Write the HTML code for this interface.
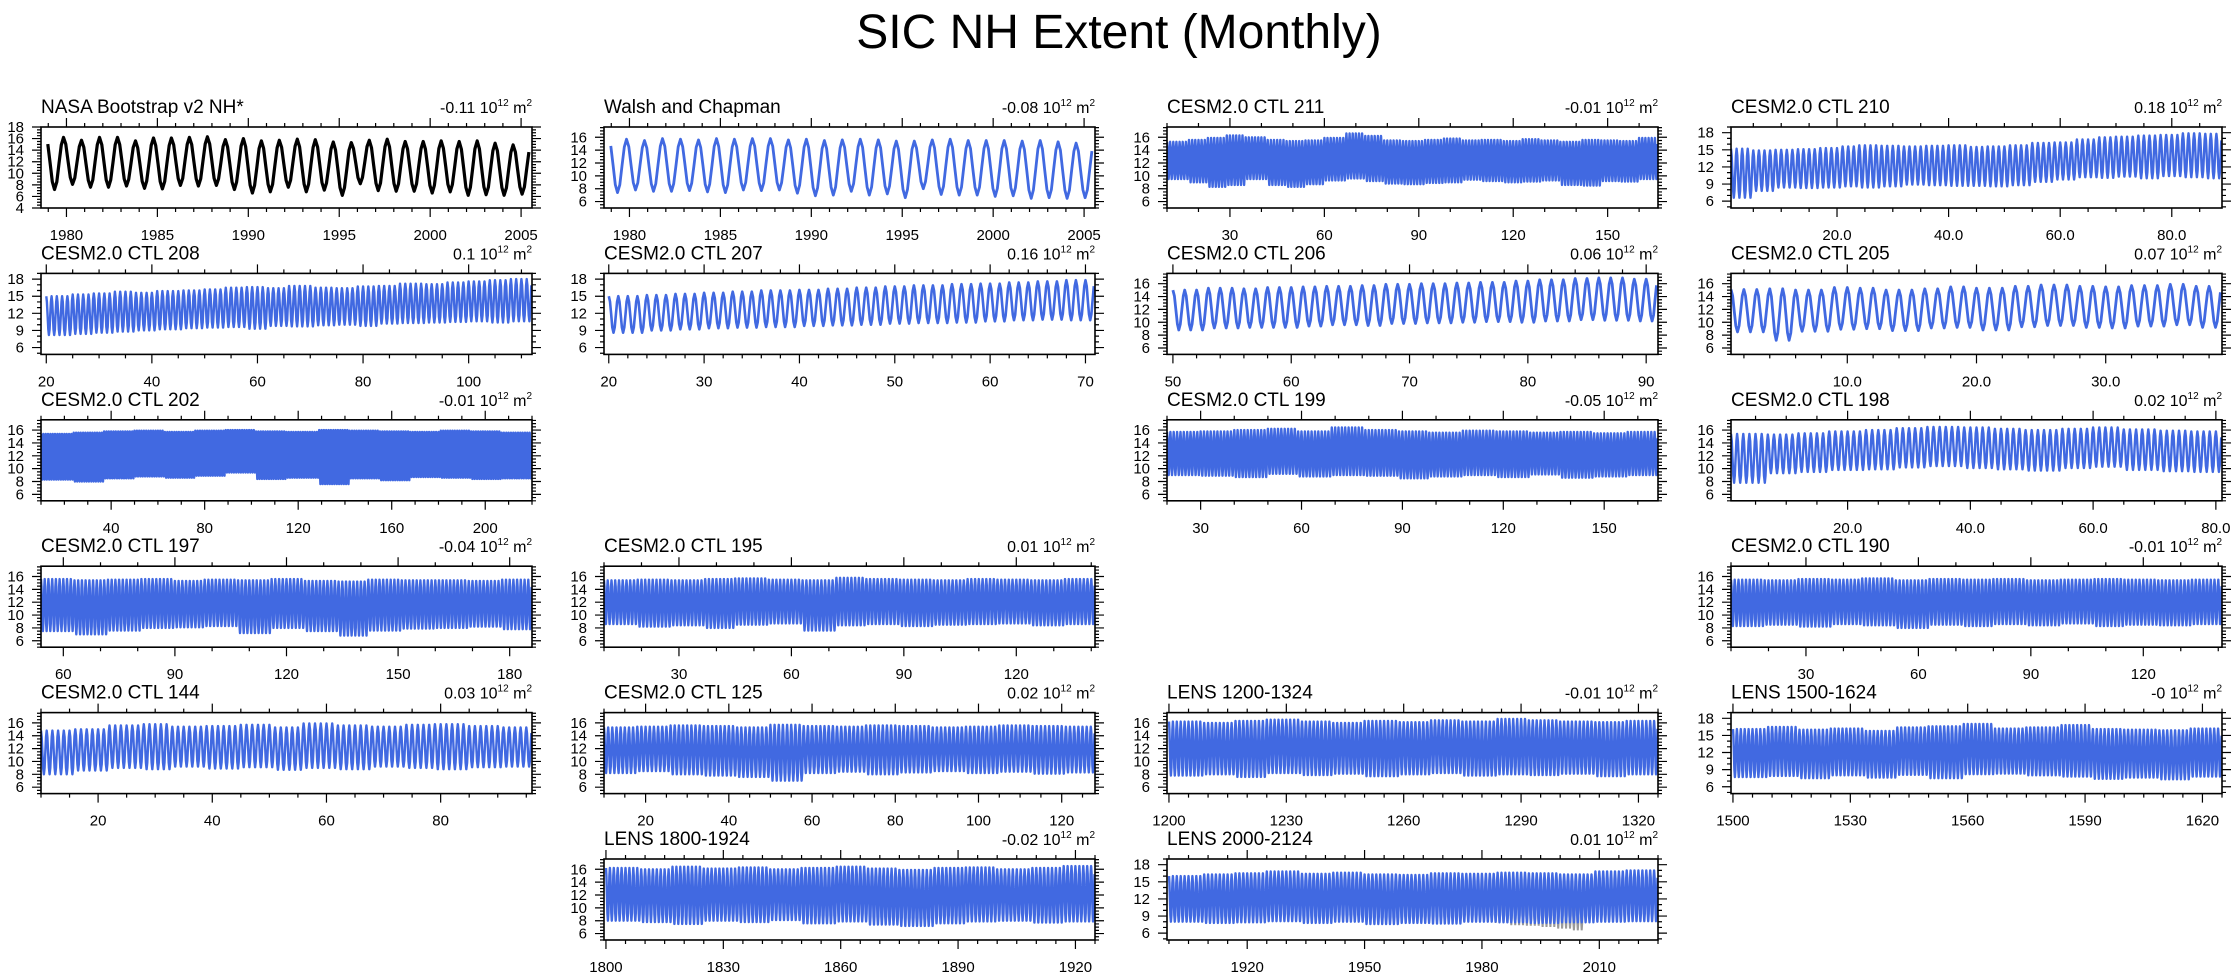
<!DOCTYPE html>
<html><head><meta charset="utf-8"><style>
html,body{margin:0;padding:0;background:#fff;}
svg{display:block;font-family:"Liberation Sans",sans-serif;}
</style></head><body>
<svg id="chart" width="2238" height="978" viewBox="0 0 2238 978">
<text x="1119" y="48" font-size="48" text-anchor="middle">SIC NH Extent (Monthly)</text>
</svg>
<script>
// ---- data (annual max / min of monthly extent, 10^12 m^2) ----
const nasaMax=[16.4,16.2,15.7,16.2,16.2,15.6,16.1,16.1,16.2,16.3,15.8,16.0,15.6,15.7,15.9,15.8,15.4,15.3,15.7,15.9,15.5,15.5,15.6,15.5,15.6,15.2,14.9];
const nasaMin=[7.2,8.1,7.6,7.6,7.8,7.4,7.3,7.9,7.8,7.9,7.2,6.6,6.8,7.6,6.8,7.1,6.2,8.2,7.0,6.9,6.9,6.6,6.8,6.2,6.3,6.2,6.4];
const walshMax=[15.9,15.7,15.5,15.8,15.7,15.6,15.8,15.7,15.8,15.8,15.6,15.7,15.5,15.6,15.7,15.6,15.4,15.4,15.6,15.7,15.5,15.5,15.5,15.4,15.5,15.3,15.1];
const walshMin=[7.4,7.8,7.6,7.6,7.7,7.5,7.4,7.8,7.7,7.8,7.3,6.9,7.0,7.6,7.0,7.2,6.6,8.0,7.1,7.0,7.0,6.8,6.9,6.5,6.6,6.5,6.6];
const c211Max=[15.3,15.6,15.9,16.3,16.0,15.6,15.4,15.5,15.9,16.6,16.2,15.5,15.4,15.6,15.8,15.5,15.6,15.4,15.7,15.5,15.3,15.6,15.5,15.4,15.9];
const c211Min=[9.5,9.0,8.3,8.6,9.5,8.6,8.3,8.7,9.3,9.6,9.2,8.8,8.7,8.9,9.0,9.4,9.2,9.0,9.1,9.3,8.6,8.5,9.2,9.1,9.5];
const c210Max=[15.2,14.9,15.0,15.1,15.3,15.6,15.8,15.7,15.6,15.7,15.8,15.5,15.6,15.8,16.2,16.3,16.8,17.2,17.3,17.5,17.6,17.9,17.8];
const c210Min=[6.6,7.8,8.4,8.3,8.4,8.6,8.4,8.6,8.9,8.8,8.7,8.7,8.6,8.8,9.4,9.8,10.2,10.1,10.3,10.0,10.4,10.2,10.0];
const c208Max=[15.0,15.3,15.5,15.8,15.6,15.9,16.0,16.2,16.5,16.6,16.4,16.8,16.5,16.4,16.7,16.8,17.2,17.1,17.4,17.6,17.8,18.0];
const c208Min=[8.2,8.4,8.6,8.8,9.0,9.2,9.4,9.5,9.6,9.3,9.8,9.7,9.9,10.0,9.8,10.2,10.3,10.4,10.5,10.6,10.4,10.6];
const c207Max=[15.0,15.2,15.4,15.6,15.8,16.0,16.1,16.3,16.5,16.7,16.9,17.1,17.2,17.4,17.6,17.8];
const c207Min=[8.6,9.0,9.2,9.4,9.5,9.6,9.8,9.9,10.0,10.2,10.3,10.4,10.6,10.8,10.9,10.8];
const c206Max=[15.0,15.3,15.2,15.4,15.5,15.6,15.7,15.9,16.0,16.1,16.2,16.4,16.6,16.8,16.9,16.7];
const c206Min=[8.8,9.1,9.2,9.2,9.4,9.6,9.5,9.8,9.9,10.0,10.1,10.0,10.2,10.4,10.3,10.2];
const c205Max=[15.1,15.2,15.0,15.4,15.3,15.0,15.2,15.5,15.3,15.6,15.8,15.6,15.5,15.7,15.9,15.6];
const c205Min=[8.5,7.2,8.6,8.9,9.0,8.7,9.1,9.2,8.8,9.3,9.5,9.2,9.1,9.4,9.6,9.2];
const c202Max=[15.4,15.6,15.8,15.9,15.7,15.9,16.0,15.8,15.7,16.0,15.9,15.8,15.7,15.9,15.8,15.6];
const c202Min=[8.3,8.0,8.5,8.8,8.6,8.9,9.4,8.4,8.6,7.6,8.5,8.2,8.7,8.6,8.4,8.5];
const c199Max=[15.7,15.8,16.0,16.2,15.8,16.4,16.0,15.8,15.6,15.9,15.8,15.6,15.7,15.5,15.7];
const c199Min=[9.0,8.9,8.7,9.2,8.8,9.0,8.9,8.5,8.8,9.0,8.7,9.1,8.6,8.8,9.0];
const c198Max=[15.4,15.3,15.5,15.8,16.0,16.3,16.5,16.4,16.2,16.0,16.2,16.4,16.1,15.9,15.8];
const c198Min=[7.8,9.3,9.5,9.8,9.9,10.2,10.4,10.1,9.9,9.7,10.1,10.3,9.8,9.6,9.5];
const c197Max=[15.6,15.4,15.5,15.6,15.3,15.5,15.4,15.6,15.3,15.2,15.5,15.4,15.4,15.3,15.5];
const c197Min=[7.5,7.0,7.6,8.0,8.1,8.3,7.2,8.0,7.5,6.8,7.6,7.9,8.0,8.2,7.8];
const c195Max=[15.4,15.5,15.4,15.6,15.7,15.5,15.4,15.8,15.6,15.5,15.4,15.6,15.5,15.4,15.6];
const c195Min=[8.6,8.2,8.4,8.0,8.5,8.7,7.6,8.4,8.6,8.3,8.5,8.6,8.7,8.4,8.6];
const c190Max=[15.5,15.4,15.6,15.5,15.7,15.4,15.6,15.5,15.6,15.4,15.5,15.6,15.5,15.4,15.5];
const c190Min=[8.3,8.5,8.2,8.6,8.4,8.0,8.5,8.3,8.6,8.4,8.7,8.3,8.5,8.4,8.6];
const c144Max=[14.8,15.0,15.6,15.8,15.4,15.5,15.7,15.3,15.9,15.6,15.4,15.7,15.8,15.5,15.3];
const c144Min=[8.0,8.6,9.0,8.8,9.2,8.9,9.1,8.7,9.0,8.8,9.2,9.0,8.8,9.1,9.2];
const c125Max=[15.3,15.4,15.6,15.5,15.3,15.7,15.5,15.4,15.6,15.5,15.3,15.4,15.6,15.5,15.4];
const c125Min=[8.2,8.5,8.0,7.8,7.6,7.0,8.2,8.4,8.0,8.3,8.5,8.2,8.4,8.1,8.3];
const l1200Max=[16.2,16.0,16.3,16.5,16.2,16.0,16.3,16.1,16.4,16.2,16.6,16.4,16.2,16.1,16.3];
const l1200Min=[7.8,8.0,7.6,8.2,7.9,8.1,7.7,8.0,8.2,7.8,8.0,7.9,8.1,7.7,8.0];
const l1500Max=[16.1,16.5,16.0,16.2,15.8,16.4,16.6,17.0,16.2,16.4,16.8,16.1,16.0,15.9,16.2];
const l1500Min=[7.7,7.9,7.5,8.0,7.6,8.1,7.5,8.2,8.3,8.0,7.8,7.4,7.6,7.3,7.8];
const l1800Max=[16.2,16.0,16.4,16.1,16.3,16.0,16.2,16.4,16.1,15.9,16.2,16.3,16.0,16.2,16.5];
const l1800Min=[8.0,7.8,7.5,8.0,7.8,8.1,7.6,7.9,7.4,7.2,7.6,7.9,8.0,7.7,7.9];
const l2000Max=[16.0,16.3,16.5,16.8,16.4,16.6,16.3,16.2,16.5,16.4,16.6,16.5,16.3,16.8,17.0];
const l2000Min=[8.0,7.8,7.9,8.1,7.8,8.0,7.6,7.8,7.7,8.0,7.9,7.8,7.9,8.0,8.1];
const obsMax=[16.2,16.0,15.8,15.9,15.6,15.5,15.3];
const obsMin=[8.3,7.8,7.4,7.3,7.1,6.8,6.5];

// ---- panel definitions ----
const panels=[
 {name:"NASA Bootstrap v2 NH*",val:"-0.11",col:0,row:0,xr:[1978.6,2005.6],d:[1978.9,2005.6],n:27,ph:0.95,max:nasaMax,min:nasaMin,xt:[1980,1985,1990,1995,2000,2005],xm:1,xf:0,yr:[4,18],yt:[4,6,8,10,12,14,16,18],ym:0.5,color:"#000",lw:3.2},
 {name:"Walsh and Chapman",val:"-0.08",col:1,row:0,xr:[1978.6,2005.6],d:[1978.9,2005.6],n:27,ph:0.95,max:walshMax,min:walshMin,xt:[1980,1985,1990,1995,2000,2005],xm:1,xf:0,yr:[5,17.6],yt:[6,8,10,12,14,16],ym:0.5,color:"#4169e1",lw:2.8},
 {name:"CESM2.0 CTL 211",val:"-0.01",col:2,row:0,xr:[10,166],d:[10,166],n:156,max:c211Max,min:c211Min,xt:[30,60,90,120,150],xm:10,xf:0,yr:[5,17.6],yt:[6,8,10,12,14,16],ym:0.5,color:"#4169e1",lw:2.4},
 {name:"CESM2.0 CTL 210",val:"0.18",col:3,row:0,xr:[1,89],d:[1,89],n:88,max:c210Max,min:c210Min,xt:[20,40,60,80],xm:5,xf:1,yr:[4.8,19],yt:[6,9,12,15,18],ym:1,color:"#4169e1",lw:2.4},
 {name:"CESM2.0 CTL 208",val:"0.1",col:0,row:1,xr:[19,112],d:[20,112],n:92,max:c208Max,min:c208Min,xt:[20,40,60,80,100],xm:5,xf:0,yr:[4.8,19],yt:[6,9,12,15,18],ym:1,color:"#4169e1",lw:2.4},
 {name:"CESM2.0 CTL 207",val:"0.16",col:1,row:1,xr:[19.5,71],d:[20,71],n:51,max:c207Max,min:c207Min,xt:[20,30,40,50,60,70],xm:2,xf:0,yr:[4.8,19],yt:[6,9,12,15,18],ym:1,color:"#4169e1",lw:2.6},
 {name:"CESM2.0 CTL 206",val:"0.06",col:2,row:1,xr:[49.5,91],d:[50,91],n:41,max:c206Max,min:c206Min,xt:[50,60,70,80,90],xm:2,xf:0,yr:[5,17.6],yt:[6,8,10,12,14,16],ym:0.5,color:"#4169e1",lw:2.8},
 {name:"CESM2.0 CTL 205",val:"0.07",col:3,row:1,xr:[1,39],d:[1,39],n:38,max:c205Max,min:c205Min,xt:[10,20,30],xm:2,xf:1,yr:[5,17.6],yt:[6,8,10,12,14,16],ym:0.5,color:"#4169e1",lw:2.8},
 {name:"CESM2.0 CTL 202",val:"-0.01",col:0,row:2,xr:[10,220],d:[10,220],n:210,max:c202Max,min:c202Min,xt:[40,80,120,160,200],xm:10,xf:0,yr:[5,17.6],yt:[6,8,10,12,14,16],ym:0.5,color:"#4169e1",lw:2.4},
 {name:"CESM2.0 CTL 199",val:"-0.05",col:2,row:2,xr:[20,166],d:[20,166],n:146,max:c199Max,min:c199Min,xt:[30,60,90,120,150],xm:10,xf:0,yr:[5,17.6],yt:[6,8,10,12,14,16],ym:0.5,color:"#4169e1",lw:2.4},
 {name:"CESM2.0 CTL 198",val:"0.02",col:3,row:2,xr:[1,81],d:[1,81],n:80,max:c198Max,min:c198Min,xt:[20,40,60,80],xm:5,xf:1,yr:[5,17.6],yt:[6,8,10,12,14,16],ym:0.5,color:"#4169e1",lw:2.4},
 {name:"CESM2.0 CTL 197",val:"-0.04",col:0,row:3,xr:[54,186],d:[54,186],n:132,max:c197Max,min:c197Min,xt:[60,90,120,150,180],xm:10,xf:0,yr:[5,17.6],yt:[6,8,10,12,14,16],ym:0.5,color:"#4169e1",lw:2.4},
 {name:"CESM2.0 CTL 195",val:"0.01",col:1,row:3,xr:[10,141],d:[10,141],n:131,max:c195Max,min:c195Min,xt:[30,60,90,120],xm:10,xf:0,yr:[5,17.6],yt:[6,8,10,12,14,16],ym:0.5,color:"#4169e1",lw:2.4},
 {name:"CESM2.0 CTL 190",val:"-0.01",col:3,row:3,xr:[10,141],d:[10,141],n:131,max:c190Max,min:c190Min,xt:[30,60,90,120],xm:10,xf:0,yr:[5,17.6],yt:[6,8,10,12,14,16],ym:0.5,color:"#4169e1",lw:2.4},
 {name:"CESM2.0 CTL 144",val:"0.03",col:0,row:4,xr:[10,96],d:[10,96],n:86,max:c144Max,min:c144Min,xt:[20,40,60,80],xm:5,xf:0,yr:[5,17.6],yt:[6,8,10,12,14,16],ym:0.5,color:"#4169e1",lw:2.4},
 {name:"CESM2.0 CTL 125",val:"0.02",col:1,row:4,xr:[10,128],d:[10,128],n:118,max:c125Max,min:c125Min,xt:[20,40,60,80,100,120],xm:5,xf:0,yr:[5,17.6],yt:[6,8,10,12,14,16],ym:0.5,color:"#4169e1",lw:2.4},
 {name:"LENS 1200-1324",val:"-0.01",col:2,row:4,xr:[1199.5,1325],d:[1200,1325],n:125,max:l1200Max,min:l1200Min,xt:[1200,1230,1260,1290,1320],xm:5,xf:0,yr:[5,17.6],yt:[6,8,10,12,14,16],ym:0.5,color:"#4169e1",lw:2.4},
 {name:"LENS 1500-1624",val:"-0",col:3,row:4,xr:[1499.5,1625],d:[1500,1625],n:125,max:l1500Max,min:l1500Min,xt:[1500,1530,1560,1590,1620],xm:5,xf:0,yr:[4.8,19],yt:[6,9,12,15,18],ym:1,color:"#4169e1",lw:2.4},
 {name:"LENS 1800-1924",val:"-0.02",col:1,row:5,xr:[1799.5,1925],d:[1800,1925],n:125,max:l1800Max,min:l1800Min,xt:[1800,1830,1860,1890,1920],xm:5,xf:0,yr:[5,17.6],yt:[6,8,10,12,14,16],ym:0.5,color:"#4169e1",lw:2.4},
 {name:"LENS 2000-2124",val:"0.01",col:2,row:5,xr:[1899.5,2025],d:[1900,2025],n:125,max:l2000Max,min:l2000Min,xt:[1920,1950,1980,2010],xm:5,xf:0,yr:[4.8,19],yt:[6,9,12,15,18],ym:1,color:"#4169e1",lw:2.4,
  obs:{d:[1979,2006],n:27,max:obsMax,min:obsMin}}
];

const NS="http://www.w3.org/2000/svg";
const svg=document.getElementById('chart');
const COLX=[41,604,1167,1731], BW=491, BH=81, ROW0=127, PITCH=146.4;
function mk(tag,attrs,parent){const e=document.createElementNS(NS,tag);for(const k in attrs)e.setAttribute(k,attrs[k]);(parent||svg).appendChild(e);return e;}
function slug(s){return s.toLowerCase().replace(/[^a-z0-9]+/g,'-').replace(/^-|-$/g,'');}

function cyclePath(sx,sy,d0,d1,n,maxA,minA,ph){
  let pts=[];const span=(d1-d0)/n;const off=ph||0;
  for(let i=0;i<n;i++){
    const mx=maxA[Math.floor(i*maxA.length/n)], mn=minA[Math.floor(i*minA.length/n)];
    const nmx=maxA[Math.floor(Math.min(n-1,i+1)*maxA.length/n)];
    for(let k=0;k<8;k++){
      const f=k/8;let v;
      if(f<0.5){v=mx-(mx-mn)*(1-Math.cos(Math.PI*f*2))/2;}
      else {v=mn+(nmx-mn)*(1-Math.cos(Math.PI*(f-0.5)*2))/2;}
      const t=d0+(i+f+off-(ph?1:0))*span;
      if(t<d0||t>d1)continue;
      pts.push(sx(t).toFixed(1)+','+sy(v).toFixed(1));
    }
  }
  return 'M'+pts.join('L');
}

panels.forEach(p=>{
  const x0=COLX[p.col], y0=ROW0+p.row*PITCH;
  const id=slug(p.name);
  const g=mk('g',{});
  
  
  const sx=v=>x0+(v-p.xr[0])/(p.xr[1]-p.xr[0])*BW;
  const sy=v=>y0+BH-(v-p.yr[0])/(p.yr[1]-p.yr[0])*BH;
  const t=mk('text',{x:x0,y:y0-14,'font-size':19},g);t.textContent=p.name;
  
  
  const v=mk('text',{x:x0+BW,y:y0-14,'font-size':16,'text-anchor':'end'},g);
  v.innerHTML=p.val+' 10<tspan font-size="10" dy="-7">12</tspan><tspan dy="7"> m</tspan><tspan font-size="10" dy="-7">2</tspan>';
  
  
  const cp=mk('clipPath',{id:'c'+id},g);mk('rect',{x:x0,y:y0,width:BW,height:BH},cp);
  const sg=mk('g',{'clip-path':'url(#c'+id+')'},g);
  if(p.obs){
    const o=mk('path',{d:cyclePath(sx,sy,p.obs.d[0],p.obs.d[1],p.obs.n,p.obs.max,p.obs.min),fill:'none',stroke:'#999','stroke-width':2},sg);
    
    
  }
  const ln=mk('path',{d:cyclePath(sx,sy,p.d[0],p.d[1],p.n,p.max,p.min,p.ph),fill:'none',stroke:p.color,'stroke-width':p.lw,'stroke-linejoin':'round'},sg);
  
  
  const fr=mk('rect',{x:x0,y:y0,width:BW,height:BH,fill:'none',stroke:'#000','stroke-width':1.6},g);
  
  
  let tp='';
  for(let m=Math.ceil(p.xr[0]/p.xm)*p.xm;m<=p.xr[1];m+=p.xm){const X=sx(m);tp+=`M${X},${y0+BH}v4M${X},${y0}v-4`;}
  p.xt.forEach(m=>{const X=sx(m);tp+=`M${X},${y0+BH}v9M${X},${y0}v-9`;});
  for(let m=Math.ceil(p.yr[0]/p.ym)*p.ym;m<=p.yr[1]+1e-6;m+=p.ym){const Y=sy(m);tp+=`M${x0},${Y}h-4M${x0+BW},${Y}h4`;}
  p.yt.forEach(m=>{const Y=sy(m);tp+=`M${x0},${Y}h-9M${x0+BW},${Y}h9`;});
  const tk=mk('path',{d:tp,stroke:'#000','stroke-width':1.2,fill:'none'},g);
  
  
  p.xt.forEach(m=>{const e=mk('text',{x:sx(m),y:y0+BH+32,'font-size':15,'text-anchor':'middle'},g);e.textContent=p.xf?m.toFixed(1):m;
    
    });
  p.yt.forEach(m=>{const e=mk('text',{x:x0-17,y:sy(m)+5,'font-size':15,'text-anchor':'end'},g);e.textContent=m;
    
    });
});
</script>
</body></html>
